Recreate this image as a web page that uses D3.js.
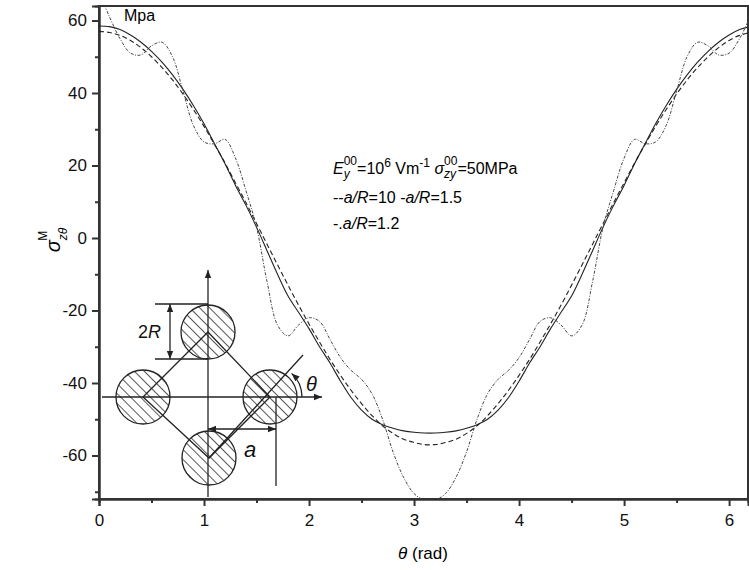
<!DOCTYPE html>
<html><head><meta charset="utf-8">
<script src="https://cdn.jsdelivr.net/npm/d3@7"></script>
<style>body{margin:0;background:#fff}text{font-family:"Liberation Sans",Arial,sans-serif}</style>
</head><body><svg id="c" width="749" height="570"></svg>
<script>
// theta grid (rad)
const theta = d3.range(0, 63).map(i => +(i * 0.1).toFixed(1));
// a/R = 10 (dashed)
const sDash = [57,56.7,55.9,54.5,52.5,50,47,43.6,39.7,35.4,30.8,25.8,20.7,15.2,9.7,4,-1.7,-7.4,-13,-18.5,-23.7,-28.7,-33.5,-37.9,-42,-45.7,-49,-51.8,-53.9,-55.5,-56.4,-57,
  -57,-56.4,-55.5,-53.9,-51.8,-49,-45.7,-42,-37.9,-33.5,-28.7,-23.7,-18.5,-13,-7.4,-1.7,4,9.7,15.2,20.7,25.8,30.8,35.4,39.7,43.6,47,50,52.5,54.5,55.9,56.7];
// a/R = 1.5 (solid)
const sSolid = [58.5,58.3,57.5,56,54,51.5,48.5,45,41,36.5,31.5,26,20.5,14.5,9,3,-3.5,-10,-16,-20.5,-25,-30,-34.5,-39.5,-44,-47.5,-50,-51.5,-52.5,-53.2,-53.6,-53.8,
  -53.8,-53.6,-53.2,-52.5,-51.5,-50,-47.5,-44,-39.5,-34.5,-30,-25,-20.5,-16,-10,-3.5,3,9,14.5,20.5,26,31.5,36.5,41,45,48.5,51.5,54,56,57.5,58.3];
// a/R = 1.2 (dash-dot)
const sDot = [68,61,55,51,50.5,53,54,50,40.5,31,26.5,26,27.2,22,13,3,-12,-24,-27,-24,-22,-23,-28,-33,-36.5,-39,-43,-50,-59,-66,-70.5,-72.3,
  -72.3,-70.5,-66,-59,-50,-43,-39,-36.5,-33,-28,-23,-22,-24,-27,-24,-12,3,13,22,27.2,26,26.5,31,40.5,50,54,53,50.5,51,55,61];
const xTicks = [0,1,2,3,4,5,6];
const yTicks = [-60,-40,-20,0,20,40,60];

const svg = d3.select('#c');
const m = {l: 99, r: 748, t: 6, b: 499};
const x = d3.scaleLinear().domain([0, 6.18]).range([m.l, m.r]);
const y = d3.scaleLinear().domain([-72, 64]).range([m.b, m.t]);

svg.append('clipPath').attr('id', 'clip').append('rect')
  .attr('x', m.l).attr('y', m.t).attr('width', m.r - m.l).attr('height', m.b - m.t);

// hatch pattern
const pat = svg.append('defs').append('pattern').attr('id', 'hatch')
  .attr('patternUnits', 'userSpaceOnUse').attr('width', 7).attr('height', 7)
  .attr('patternTransform', 'rotate(-45)');
pat.append('rect').attr('width', 7).attr('height', 7).attr('fill', '#fff');
pat.append('line').attr('x1', 0).attr('y1', 0).attr('x2', 0).attr('y2', 7)
  .attr('stroke', '#111').attr('stroke-width', 1.4);
const mk = svg.select('defs').append('marker').attr('id', 'arr').attr('viewBox', '0 0 10 10')
  .attr('refX', 10).attr('refY', 5).attr('markerWidth', 14).attr('markerHeight', 8)
  .attr('markerUnits', 'userSpaceOnUse').attr('orient', 'auto-start-reverse');
mk.append('path').attr('d', 'M0,1L10,5L0,9Z').attr('fill', '#222');

// axes
const fmt = d => String(d);
svg.append('g').attr('transform', `translate(0,${m.b})`)
  .call(d3.axisBottom(x).tickValues(xTicks).tickSize(7).tickPadding(8).tickFormat(fmt));
svg.append('g').attr('transform', `translate(0,${m.b})`)
  .call(d3.axisBottom(x).tickValues(d3.range(0.5, 6.2, 1)).tickSize(4).tickFormat(''));
svg.append('g').attr('transform', `translate(${m.l},0)`)
  .call(d3.axisLeft(y).tickValues(yTicks).tickSize(7).tickPadding(5).tickFormat(fmt));
svg.append('g').attr('transform', `translate(${m.l},0)`)
  .call(d3.axisLeft(y).tickValues(d3.range(-70, 64, 20)).tickSize(4).tickFormat(''));
svg.selectAll('.domain, .tick line').attr('stroke', '#333').attr('stroke-width', 2);
svg.selectAll('.tick text').attr('font-size', 17).attr('fill', '#111').attr('font-family', '"Liberation Sans",Arial,sans-serif');
svg.append('rect').attr('x', m.l).attr('y', m.t).attr('width', m.r - m.l).attr('height', m.b - m.t)
  .attr('fill', 'none').attr('stroke', '#333').attr('stroke-width', 2);

// curves
const line = d3.line().x((d, i) => x(theta[i])).y(d => y(d)).curve(d3.curveCatmullRom);
const g = svg.append('g').attr('clip-path', 'url(#clip)').attr('fill', 'none');
g.append('path').attr('d', line(sSolid)).attr('stroke', '#222').attr('stroke-width', 1.1);
g.append('path').attr('d', line(sDash)).attr('stroke', '#222').attr('stroke-width', 1.1).attr('stroke-dasharray', '5,3');
g.append('path').attr('d', line(sDot)).attr('stroke', '#444').attr('stroke-width', 1).attr('stroke-dasharray', '3,1.5,1,1.5');

// texts
svg.append('text').attr('x', 124).attr('y', 21).attr('font-size', 16).text('Mpa');
const t1 = svg.append('text').attr('x', 333).attr('y', 174).attr('font-size', 16);
t1.append('tspan').attr('font-style', 'italic').text('E');
t1.append('tspan').attr('font-size', 12).attr('dy', 4).attr('font-style', 'italic').text('y');
t1.append('tspan').attr('font-size', 12).attr('dx', -6).attr('dy', -13).text('00');
t1.append('tspan').attr('dy', 9).text('=10');
t1.append('tspan').attr('font-size', 12).attr('dy', -7).text('6');
t1.append('tspan').attr('dy', 7).text(' Vm');
t1.append('tspan').attr('font-size', 12).attr('dy', -7).text('-1');
t1.append('tspan').attr('dy', 7).attr('font-style', 'italic').text(' σ');
t1.append('tspan').attr('font-size', 12).attr('dy', 4).attr('font-style', 'italic').text('zy');
t1.append('tspan').attr('font-size', 12).attr('dx', -12).attr('dy', -13).text('00');
t1.append('tspan').attr('dy', 9).text('=50MPa');
const t2 = svg.append('text').attr('x', 333).attr('y', 203).attr('font-size', 16);
t2.append('tspan').text('--'); t2.append('tspan').attr('font-style', 'italic').text('a/R');
t2.append('tspan').text('=10 -'); t2.append('tspan').attr('font-style', 'italic').text('a/R');
t2.append('tspan').text('=1.5');
const t3 = svg.append('text').attr('x', 333).attr('y', 229).attr('font-size', 16);
t3.append('tspan').text('-.'); t3.append('tspan').attr('font-style', 'italic').text('a/R');
t3.append('tspan').text('=1.2');

const xl = svg.append('text').attr('x', 423).attr('y', 559).attr('text-anchor', 'middle').attr('font-size', 17);
xl.append('tspan').attr('font-style', 'italic').text('θ'); xl.append('tspan').text(' (rad)');
const yl = svg.append('text').attr('transform', 'translate(60,240) rotate(-90)').attr('text-anchor', 'middle').attr('font-size', 20);
yl.append('tspan').attr('font-style', 'italic').text('σ');
yl.append('tspan').attr('font-size', 12).attr('dy', 7).attr('font-style', 'italic').text('zθ');
yl.append('tspan').attr('font-size', 12).attr('dx', -13).attr('dy', -20).text('M');

// inset sketch
const ins = svg.append('g').attr('stroke', '#222').attr('stroke-width', 1.3).attr('fill', 'none');
const C = [[208, 332], [143, 397], [270, 397], [209, 458]];
C.forEach(c => ins.append('circle').attr('cx', c[0]).attr('cy', c[1]).attr('r', 27).attr('fill', 'url(#hatch)'));
ins.append('path').attr('d', `M${C[0]}L${C[2]}L${C[3]}L${C[1]}Z`);
ins.append('line').attr('x1', 209).attr('y1', 458).attr('x2', 303).attr('y2', 355);
ins.append('line').attr('x1', 208).attr('y1', 497).attr('x2', 208).attr('y2', 270).attr('marker-end', 'url(#arr)');
ins.append('line').attr('x1', 102).attr('y1', 397).attr('x2', 322).attr('y2', 397).attr('marker-end', 'url(#arr)');
ins.append('line').attr('x1', 155).attr('y1', 304).attr('x2', 208).attr('y2', 304);
ins.append('line').attr('x1', 155).attr('y1', 359).attr('x2', 208).attr('y2', 359);
ins.append('line').attr('x1', 170).attr('y1', 304).attr('x2', 170).attr('y2', 359)
  .attr('marker-start', 'url(#arr)').attr('marker-end', 'url(#arr)');
ins.append('line').attr('x1', 276).attr('y1', 397).attr('x2', 276).attr('y2', 486);
ins.append('line').attr('x1', 208).attr('y1', 429).attr('x2', 276).attr('y2', 429)
  .attr('marker-start', 'url(#arr)').attr('marker-end', 'url(#arr)');
const r0 = 32;
ins.append('path').attr('d', `M${270 + r0},397A${r0},${r0} 0 0 0 ${270 + r0 * Math.cos(0.83)},${397 - r0 * Math.sin(0.83)}`)
  .attr('marker-end', 'url(#arr)');
const lbl = svg.append('g').attr('font-size', 18).attr('fill', '#111');
const r2 = lbl.append('text').attr('x', 138).attr('y', 338);
r2.append('tspan').text('2'); r2.append('tspan').attr('font-style', 'italic').text('R');
lbl.append('text').attr('x', 244).attr('y', 457).attr('font-size', 22).attr('font-style', 'italic').text('a');
lbl.append('text').attr('x', 306).attr('y', 391).attr('font-size', 20).attr('font-style', 'italic').text('θ');
</script></body></html>
